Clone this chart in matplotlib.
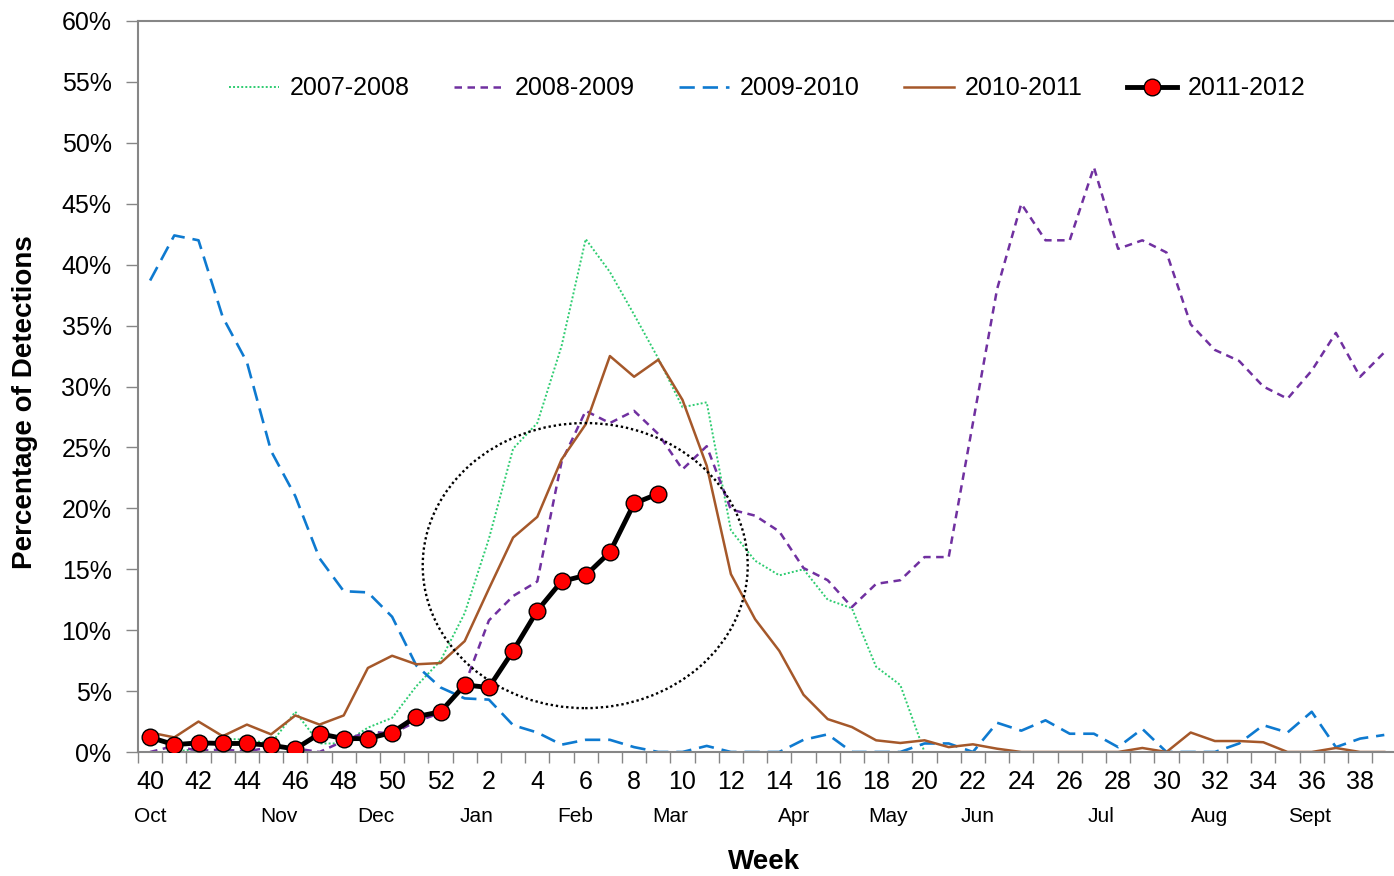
import matplotlib

matplotlib.use("Agg")
import matplotlib.pyplot as plt
import numpy as np
from matplotlib.patches import Ellipse
from matplotlib.ticker import FuncFormatter

plt.rcParams.update({
    "font.family": ["Liberation Sans", "DejaVu Sans"],
    "font.size": 18,
})

# surveillance weeks 40..52 then 1..39
weeks = list(range(40, 53)) + list(range(1, 40))

s0708 = [0, 0, 0.3, 1.1, 1.0, 0.7, 3.3, 0.7, 0.7, 2.0, 2.8, 5.4, 7.5, 11.4, 17.5, 24.9,
         27.0, 33.3, 42.1, 39.4, 35.9, 32.3, 28.3, 28.7, 18.2, 15.7, 14.5, 15.0, 12.5,
         11.8, 7.0, 5.5, 0]
s0809 = [0, 0.5, 0.1, 0.2, 0.05, 0.4, 0.3, 0, 0.9, 1.7, 1.5, 2.5, 3.2, 5.5, 10.8, 12.8,
         14.0, 23.8, 28.0, 27.0, 28.0, 26.1, 23.2, 25.1, 19.9, 19.4, 18.1, 15.1, 14.1,
         11.9, 13.8, 14.1, 16.0, 16.0, 27.0, 38.0, 45.0, 42.0, 42.0, 48.0, 41.3, 42.0,
         41.0, 35.1, 33.0, 32.1, 30.0, 29.0, 31.3, 34.4, 30.8, 32.8]
s0910 = [38.7, 42.4, 42.0, 35.7, 32.0, 24.7, 21.0, 15.9, 13.2, 13.1, 11.1, 7.1, 5.3,
         4.4, 4.3, 2.2, 1.6, 0.6, 1.0, 1.0, 0.4, 0, 0, 0.5, 0, 0, 0, 1.0, 1.45, 0, 0, 0,
         0.7, 0.7, 0, 2.4, 1.75, 2.6, 1.5, 1.5, 0.4, 1.9, 0, 0, 0, 0.7, 2.2, 1.6, 3.3,
         0.4, 1.1, 1.4]
s1011 = [1.6, 1.2, 2.5, 1.3, 2.25, 1.45, 3.0, 2.25, 3.0, 6.9, 7.9, 7.2, 7.3, 9.1, 13.4,
         17.6, 19.3, 24.0, 26.9, 32.5, 30.8, 32.2, 28.9, 23.5, 14.6, 10.9, 8.3, 4.7,
         2.7, 2.05, 0.96, 0.74, 0.96, 0.4, 0.63, 0.27, 0, 0, 0, 0, 0, 0.33, 0, 1.6,
         0.9, 0.9, 0.8, 0, 0, 0.33, 0, 0]
s1112 = [1.2, 0.6, 0.75, 0.7, 0.7, 0.55, 0.25, 1.5, 1.1, 1.1, 1.6, 2.9, 3.3, 5.5, 5.3,
         8.3, 11.6, 14.0, 14.5, 16.4, 20.4, 21.2]

months = ["Oct", "Nov", "Dec", "Jan", "Feb", "Mar", "Apr", "May", "Jun", "Jul", "Aug", "Sept"]
month_pos = [0, 5.33, 9.34, 13.47, 17.56, 21.5, 26.6, 30.5, 34.2, 39.3, 43.8, 47.9]

GREEN = "#2ECC71"
PURPLE = "#7030A0"
BLUE = "#0E7AD0"
BROWN = "#A5582A"
AXIS = "#868686"

fig = plt.figure(figsize=(13.94, 8.76), dpi=100)
ax = fig.add_axes([138 / 1394, 1 - 752 / 876, 1258.4 / 1394, 731 / 876])

x = np.arange(len(weeks))
ax.plot(x[:len(s0708)], s0708, color=GREEN, lw=1.4, dashes=(1, 1.1), label="2007-2008")
ax.plot(x, s0809, color=PURPLE, lw=1.8, dashes=(3.0, 2.2), label="2008-2009")
ax.plot(x, s0910, color=BLUE, lw=1.9, dashes=(5.8, 3.0), label="2009-2010")
ax.plot(x, s1011, color=BROWN, lw=1.8, label="2010-2011")
ax.plot(x[:len(s1112)], s1112, color="black", lw=3.5, marker="o", markersize=12,
        markerfacecolor="red", markeredgecolor="black", markeredgewidth=1.0,
        label="2011-2012", zorder=5)

ax.add_patch(Ellipse((17.98, 15.3), 13.43, 23.4, fill=False, edgecolor="black",
                     lw=1.7, linestyle=(0, (1, 1.2)), zorder=4))

ax.set_xlim(-0.5, 51.5)
ax.set_ylim(0, 60)
ax.set_yticks(np.arange(0, 61, 5))
ax.yaxis.set_major_formatter(FuncFormatter(lambda v, p: f"{v:.0f}%"))
ax.tick_params(axis="y", direction="out", length=9, width=1, color=AXIS, pad=10,
               labelsize=18)

ax.set_xticks(np.arange(-0.5, 52, 1))
ax.set_xticklabels([])
ax.tick_params(axis="x", which="major", direction="out", length=8, width=1, color=AXIS)
ax.set_xticks(x[::2], minor=True)
ax.set_xticklabels([str(w) for w in weeks[::2]], minor=True)
ax.tick_params(axis="x", which="minor", length=0, pad=13, labelsize=18)

for m, p in zip(months, month_pos):
    ax.text(p, -5.3, m, ha="center", va="center", fontsize=15)

for s in ("left", "bottom", "top"):
    ax.spines[s].set_color(AXIS)
    ax.spines[s].set_linewidth(1.5)
ax.spines["right"].set_visible(False)

ax.legend(loc="center", bbox_to_anchor=(0.5, 0.908), ncol=5, frameon=False,
          fontsize=18, handlelength=2.0, handletextpad=0.45, columnspacing=1.75)

fig.text(764 / 1394, 1 - 862 / 876, "Week", ha="center", va="center",
         fontsize=20, fontweight="bold")
fig.text(25 / 1394, 1 - 402 / 876, "Percentage of Detections", ha="center",
         va="center", rotation=90, fontsize=20, fontweight="bold")

fig.savefig("out.png", dpi=100)
